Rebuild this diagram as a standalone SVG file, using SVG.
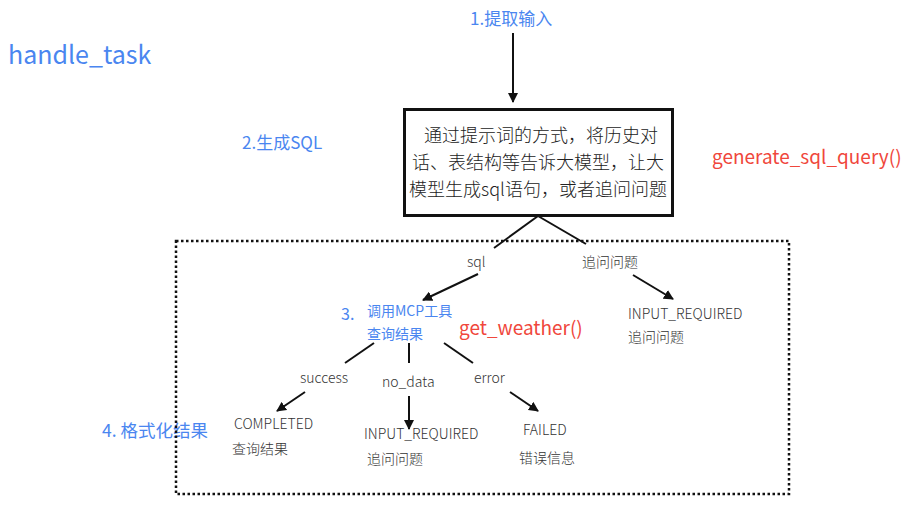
<svg xmlns="http://www.w3.org/2000/svg" width="912" height="508" viewBox="0 0 912 508">
<defs>
<marker id="ah" viewBox="0 0 10 10" refX="9" refY="5" markerWidth="10" markerHeight="10" markerUnits="userSpaceOnUse" orient="auto"><path d="M0,0 L10,5 L0,10 z" fill="#111"/></marker>
<style>
text{font-family:"Noto Sans CJK SC","Noto Sans",sans-serif;}
.b{fill:#4a86f0;}
.r{fill:#f0473c;}
.k{fill:#333;font-size:14px;font-weight:300;}
.m{fill:#222;font-size:18px;font-weight:300;}
.ln{stroke:#111;stroke-width:2;fill:none;}
</style>
</defs>
<rect width="912" height="508" fill="#fff"/>
<text class="b" x="8" y="64" font-size="25">handle_task</text>
<text class="b" x="470" y="25" font-size="17">1.提取输入</text>
<text class="b" x="242" y="149" font-size="17">2.生成SQL</text>
<text class="r" x="712" y="164" font-size="19">generate_sql_query()</text>
<text class="b" x="102" y="437" font-size="17.5">4. 格式化结果</text>
<rect x="176" y="241" width="613" height="253" fill="none" stroke="#111" stroke-width="2.5" stroke-dasharray="2.5,2.5"/>
<g id="connectors">
<line class="ln" x1="513" y1="33" x2="513" y2="102" marker-end="url(#ah)"/>
<line class="ln" x1="538" y1="216" x2="494" y2="248"/>
<line class="ln" x1="538" y1="216" x2="586" y2="244"/>
<line class="ln" x1="478" y1="274" x2="423" y2="300" marker-end="url(#ah)"/>
<line class="ln" x1="633" y1="275" x2="673" y2="299" marker-end="url(#ah)"/>
<line class="ln" x1="374" y1="343" x2="345" y2="363"/>
<line class="ln" x1="409" y1="343" x2="409" y2="363"/>
<line class="ln" x1="444" y1="343" x2="473" y2="363"/>
<line class="ln" x1="305" y1="392" x2="277" y2="411" marker-end="url(#ah)"/>
<line class="ln" x1="409" y1="396" x2="409" y2="429" marker-end="url(#ah)"/>
<line class="ln" x1="510" y1="392" x2="538" y2="411" marker-end="url(#ah)"/>
</g>
<g id="box">
<rect x="404.5" y="109.5" width="268" height="106" fill="#fff" stroke="#111" stroke-width="3"/>
<text class="m" x="541" y="142" text-anchor="middle">通过提示词的方式，将历史对</text>
<text class="m" x="538" y="169" text-anchor="middle">话、表结构等告诉大模型，让大</text>
<text class="m" x="538" y="196" text-anchor="middle">模型生成sql语句，或者追问问题</text>
</g>
<g id="lbl-sql"><text class="k" x="467" y="267">sql</text></g>
<g id="lbl-ask"><text class="k" x="582" y="267">追问问题</text></g>
<g id="input-required-1">
<text class="k" x="628" y="319">INPUT_REQUIRED</text>
<text class="k" x="628" y="342">追问问题</text>
</g>
<g id="mcp">
<text class="b" x="341" y="320" font-size="16">3.</text>
<text class="b" x="367" y="316" font-size="14">调用MCP工具</text>
<text class="b" x="367" y="339" font-size="14">查询结果</text>
</g>
<text class="r" x="459" y="335" font-size="19">get_weather()</text>
<g id="lbl-success"><text class="k" x="300" y="383">success</text></g>
<g id="lbl-nodata"><text class="k" x="382" y="387">no_data</text></g>
<g id="lbl-error"><text class="k" x="474" y="383">error</text></g>
<g id="completed">
<text class="k" x="234" y="429">COMPLETED</text>
<text class="k" x="232" y="454">查询结果</text>
</g>
<g id="input-required-2">
<text class="k" x="364" y="439">INPUT_REQUIRED</text>
<text class="k" x="367" y="464">追问问题</text>
</g>
<g id="failed">
<text class="k" x="523" y="435">FAILED</text>
<text class="k" x="519" y="463">错误信息</text>
</g>
</svg>
